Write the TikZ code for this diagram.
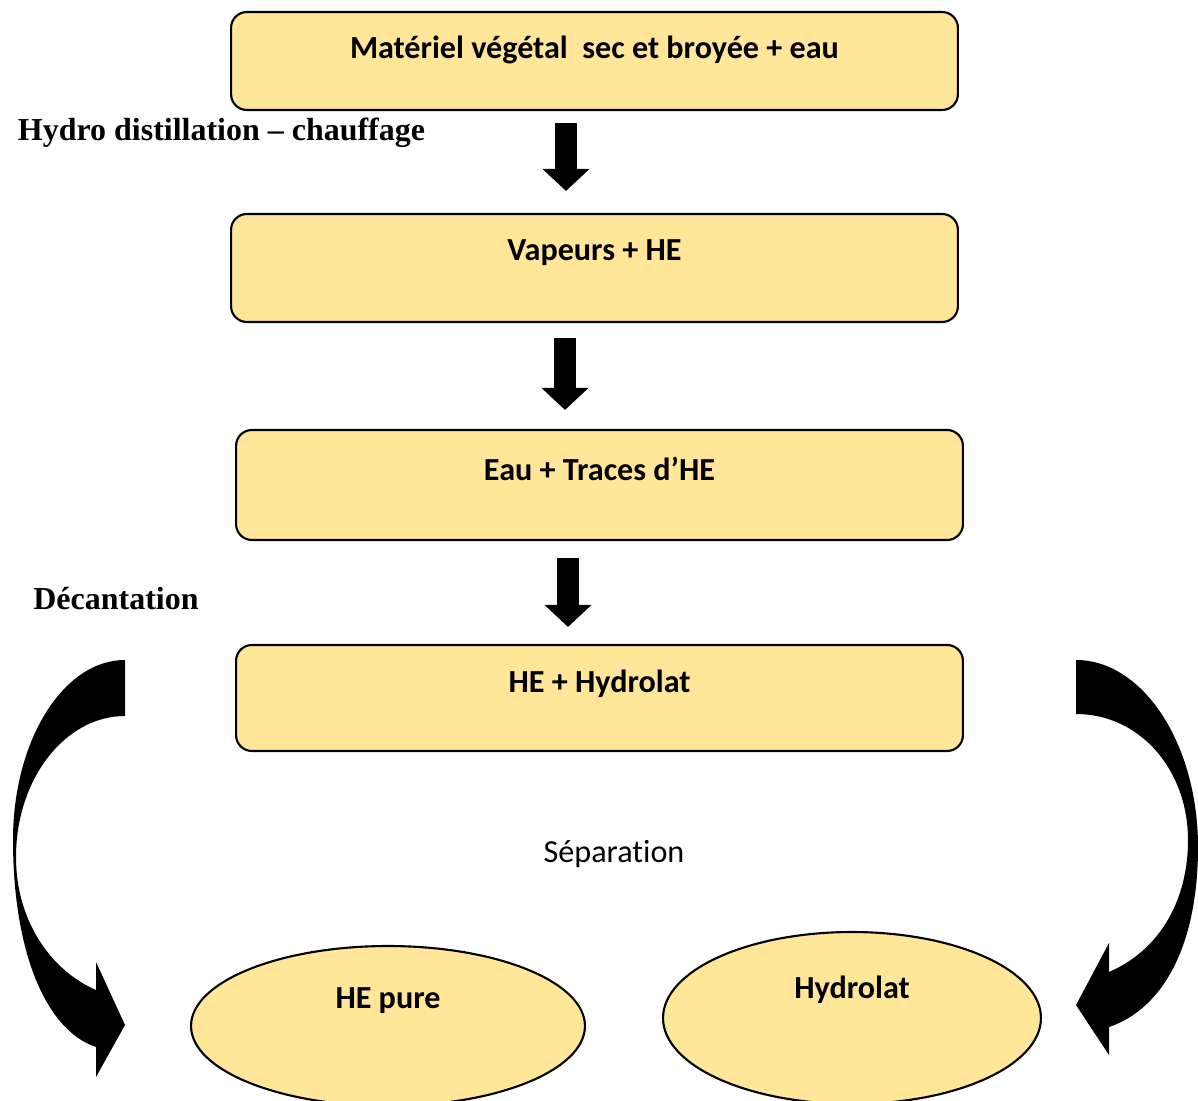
\documentclass[tikz,border=0pt]{standalone}
\usepackage{fontspec}
\setmainfont{Liberation Serif}
\newfontfamily\calibri{Carlito}[Ligatures=NoCommon]
\usetikzlibrary{calc, arrows.meta, shapes.geometric, positioning}
\definecolor{jaune}{HTML}{FFE699}
\tikzstyle{etape} = [draw, fill=jaune, line width=1.2pt, rectangle,
  rounded corners=9pt, inner sep=0pt, minimum width=14.54cm]
\tikzstyle{ovale} = [draw, fill=jaune, line width=1.2pt, ellipse, inner sep=0pt]
\tikzstyle{titre} = [font=\calibri\bfseries\fontsize{18.3}{22}\selectfont, inner sep=0pt]
\tikzstyle{legende} = [font=\bfseries\fontsize{18.2}{22}\selectfont, inner sep=0pt]
\tikzstyle{fleche} = [line width=13pt, -{Triangle[width=26pt,length=12.5pt]}]

\begin{document}
\begin{tikzpicture}[x=0.02cm, y=-0.02cm]
  \useasboundingbox (0,0) rectangle (1198,1101);
  \clip (0,0) rectangle (1198,1101);
  % etapes
  \node[etape, minimum height=1.96cm] (b1) at (594.5,61) {};
  \node[etape, minimum height=2.16cm] (b2) at (594.5,268) {};
  \node[etape, minimum height=2.2cm] (b3) at (599.5,485) {};
  \node[etape, minimum height=2.12cm] (b4) at (599.5,698) {};
  \node[titre] (t1) at ($(b1.north)+(0,39)$) {Matériel végétal~ sec et broyée + eau};
  \node[titre] (t2) at ($(b2.north)+(0,40)$) {Vapeurs + HE};
  \node[titre] (t3) at ($(b3.north)+(0,40)$) {Eau + Traces d’HE};
  \node[titre] (t4) at ($(b4.north)+(0,40)$) {HE + Hydrolat};
  % produits
  \node[ovale, minimum width=7.88cm, minimum height=3.2cm] (e1) at (388,1026) {};
  \node[ovale, minimum width=7.56cm, minimum height=3.44cm] (e2) at (852,1018) {};
  \node[titre] (t5) at ($(e1.center)+(0,-25)$) {HE pure};
  \node[titre] (t6) at ($(e2.center)+(0,-28)$) {Hydrolat};
  % legendes
  \node[legende] (l1) at (221.5,133) {Hydro distillation -- chauffage};
  \node[legende] (l2) at (116,599) {Décantation};
  \node[font=\calibri\fontsize{18.3}{22}\selectfont, inner sep=0pt] (l3) at (614,854) {Séparation};
  % fleches
  \draw[fleche] ($(b1.south)+(-28.5,12)$) -- ($(b2.north)+(-28.5,-22)$);
  \draw[fleche] ($(b2.south)+(-29.5,15)$) -- ($(b3.north)+(-34.5,-19)$);
  \draw[fleche] ($(b3.south)+(-31.5,17)$) -- ($(b4.north)+(-31.5,-17)$);
  % fleches courbes
  \fill (125,660) .. controls (63,660) and (13,741) .. (13,840)
    .. controls (13,950) and (45,1030) .. (96,1047)
    -- (96,1077) -- (125,1025) -- (96,962) -- (96,990)
    .. controls (50,970) and (16,920) .. (16,857)
    .. controls (16,779) and (65,716) .. (125,716) -- cycle;
  \fill (1076,660) .. controls (1143,660) and (1198,744) .. (1198,847)
    .. controls (1198,950) and (1160,1010) .. (1109,1027)
    -- (1109,1055) -- (1076,1005) -- (1109,943) -- (1109,972)
    .. controls (1160,950) and (1188,900) .. (1188,840)
    .. controls (1188,770) and (1140,714) .. (1076,714) -- cycle;
\end{tikzpicture}
\end{document}
